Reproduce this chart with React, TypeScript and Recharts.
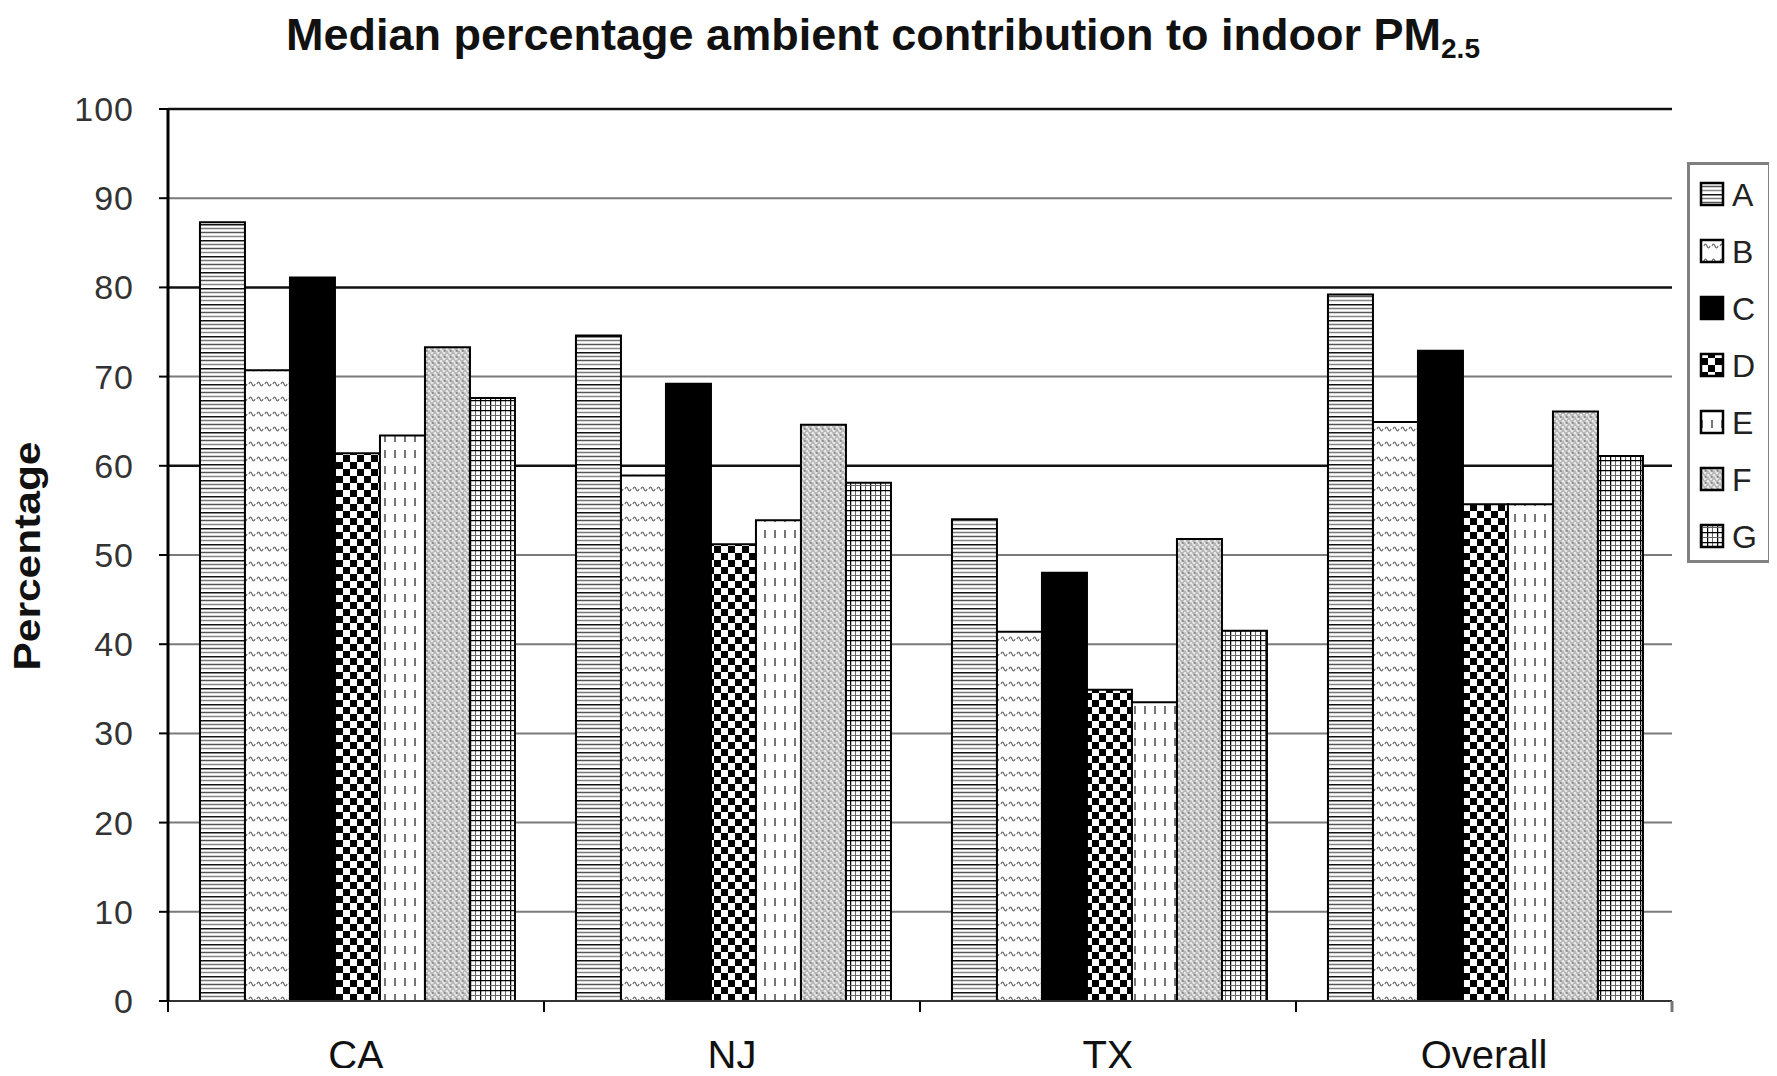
import React from 'react';
import { BarChart, Bar, XAxis, YAxis, CartesianGrid } from 'recharts';

const categories = ['CA', 'NJ', 'TX', 'Overall'];
const seriesNames = ['A', 'B', 'C', 'D', 'E', 'F', 'G'];
const valuesA = [87.3, 74.6, 54.0, 79.2];
const valuesB = [70.7, 58.9, 41.4, 64.9];
const valuesC = [81.1, 69.2, 48.0, 72.9];
const valuesD = [61.4, 51.2, 34.9, 55.7];
const valuesE = [63.4, 53.9, 33.5, 55.7];
const valuesF = [73.3, 64.6, 51.8, 66.1];
const valuesG = [67.6, 58.1, 41.5, 61.1];
const yTicks = [0, 10, 20, 30, 40, 50, 60, 70, 80, 90, 100];
const darkGrid = [100, 80, 60];
const lightGrid = [90, 70, 50, 40, 30, 20, 10];
const chartTitle = 'Median percentage ambient contribution to indoor PM';
const titleSub = '2.5';
const yTitle = 'Percentage';

const allValues = [valuesA, valuesB, valuesC, valuesD, valuesE, valuesF, valuesG];
const data = categories.map((name, i) => {
  const row: Record<string, string | number> = { name };
  seriesNames.forEach((s, k) => {
    row[s] = allValues[k][i];
  });
  return row;
});

const W = 1777;
const H = 1076;
const PLOT_LEFT = 168;
const PLOT_RIGHT = 1672;
const PLOT_TOP = 109;
const PLOT_BOTTOM = 1001;
const BAND = (PLOT_RIGHT - PLOT_LEFT) / categories.length;
const FONT = "'Liberation Sans', Arial, Helvetica, sans-serif";

const fills = ['url(#patA)', 'url(#patB)', '#000', 'url(#patD)', 'url(#patE)', 'url(#patF)', 'url(#patG)'];

const Patterns = () => (
  <defs>
    <pattern id="patA" patternUnits="userSpaceOnUse" width={8} height={16}>
      <rect width={8} height={16} fill="#fff" />
      <line x1={0} x2={8} y1={0.75} y2={0.75} stroke="#111" strokeWidth={1.5} />
      <line x1={0} x2={8} y1={4.5} y2={4.5} stroke="#777" strokeWidth={1.5} />
      <line x1={0} x2={8} y1={8.5} y2={8.5} stroke="#555" strokeWidth={1.5} />
      <line x1={0} x2={8} y1={12.5} y2={12.5} stroke="#888" strokeWidth={1.5} />
    </pattern>
    <pattern id="patB" patternUnits="userSpaceOnUse" width={8} height={15}>
      <rect width={8} height={15} fill="#fff" />
      <path d="M1,9 q1.5,-4 3,0 q1.5,4 3,0" stroke="#666" strokeWidth={1.2} fill="none" />
    </pattern>
    <pattern id="patD" patternUnits="userSpaceOnUse" width={14} height={14}>
      <rect width={14} height={14} fill="#fff" />
      <rect x={0} y={0} width={7} height={7} fill="#000" />
      <rect x={7} y={7} width={7} height={7} fill="#000" />
    </pattern>
    <pattern id="patE" patternUnits="userSpaceOnUse" width={10} height={16}>
      <rect width={10} height={16} fill="#fff" />
      <line x1={5} x2={5} y1={2} y2={10} stroke="#777" strokeWidth={2} />
    </pattern>
    <pattern id="patF" patternUnits="userSpaceOnUse" width={6} height={6}>
      <rect width={6} height={6} fill="#b8b8b8" />
      <path d="M0,6 L3,0 L6,6" stroke="#eeeeee" strokeWidth={1.2} fill="none" />
      <circle cx={1} cy={3} r={0.8} fill="#444" />
    </pattern>
    <pattern id="patG" patternUnits="userSpaceOnUse" width={10} height={10}>
      <rect width={10} height={10} fill="#fff" />
      <line x1={0.5} x2={0.5} y1={0} y2={10} stroke="#000" strokeWidth={1.5} />
      <line x1={5.5} x2={5.5} y1={0} y2={10} stroke="#666" strokeWidth={1} />
      <line x1={0} x2={10} y1={0.5} y2={0.5} stroke="#000" strokeWidth={1.5} />
      <line x1={0} x2={10} y1={5.5} y2={5.5} stroke="#666" strokeWidth={1} />
    </pattern>
  </defs>
);

const YTick = (props: any) => {
  const { x, y, payload } = props;
  return (
    <text x={x} y={y} dy={12} textAnchor="end" fontSize={34} fontFamily={FONT} fill="#333" letterSpacing={1}>
      {payload.value}
    </text>
  );
};

const XTick = (props: any) => {
  const { x, payload, index } = props;
  const half = BAND / 2;
  return (
    <g>
      <line x1={x - half} x2={x - half} y1={PLOT_BOTTOM} y2={PLOT_BOTTOM + 11} stroke="#000" strokeWidth={2} />
      {index === categories.length - 1 && (
        <line x1={x + half} x2={x + half} y1={PLOT_BOTTOM} y2={PLOT_BOTTOM + 11} stroke="#777" strokeWidth={3} />
      )}
      <text x={x} y={PLOT_BOTTOM + 68} textAnchor="middle" fontSize={40} fontFamily={FONT} fill="#111">
        {payload.value}
      </text>
    </g>
  );
};

const LEGEND_X = 1687;
const LEGEND_Y = 162;

export default function App() {
  return (
    <div style={{ position: 'relative', width: W, height: H, margin: -8, background: '#fff' }}>
      <BarChart
        width={W}
        height={H}
        data={data}
        margin={{ top: PLOT_TOP, right: W - PLOT_RIGHT, bottom: 0, left: PLOT_LEFT - 100 }}
        barCategoryGap="8.5%"
        barGap={0}
      >
        <CartesianGrid vertical={false} horizontalValues={lightGrid} stroke="#7a7a7a" strokeWidth={2} />
        <CartesianGrid vertical={false} horizontalValues={darkGrid} stroke="#111" strokeWidth={2.5} />
        <XAxis
          dataKey="name"
          height={H - PLOT_BOTTOM}
          axisLine={{ stroke: '#333', strokeWidth: 2 }}
          tickLine={false}
          tick={<XTick />}
          interval={0}
        />
        <YAxis
          domain={[0, 100]}
          ticks={yTicks}
          width={100}
          axisLine={{ stroke: '#000', strokeWidth: 3 }}
          tickLine={{ stroke: '#000', strokeWidth: 2 }}
          tickSize={9}
          tickMargin={25}
          tick={<YTick />}
          interval={0}
        />
        <YAxis
          yAxisId="right"
          orientation="right"
          domain={[0, 100]}
          width={0}
          tick={false}
          tickLine={false}
          axisLine={{ stroke: '#808080', strokeWidth: 3 }}
        />
        {seriesNames.map((s, i) => (
          <Bar key={s} dataKey={s} fill={fills[i]} stroke="#000" strokeWidth={2} isAnimationActive={false} />
        ))}
      </BarChart>
      <svg
        width={W}
        height={H}
        style={{ position: 'absolute', left: 0, top: 0, pointerEvents: 'none' }}
      >
        <Patterns />
        <text x={286} y={50} fontSize={45} fontWeight="bold" fontFamily={FONT} fill="#111">
          {chartTitle}
          <tspan fontSize={28} dy={8}>{titleSub}</tspan>
        </text>
        <text
          transform={`translate(40, ${(PLOT_TOP + PLOT_BOTTOM) / 2 + 1}) rotate(-90)`}
          textAnchor="middle"
          fontSize={36}
          fontWeight="bold"
          fontFamily={FONT}
          fill="#111"
          textLength={229}
          lengthAdjust="spacingAndGlyphs"
        >
          {yTitle}
        </text>
        <g transform={`translate(${LEGEND_X}, ${LEGEND_Y})`}>
          <rect x={1.5} y={1.5} width={81} height={398} fill="#fff" stroke="#808080" strokeWidth={3} />
          {seriesNames.map((s, i) => {
            const cy = 32 + i * 57;
            return (
              <g key={s}>
                <rect x={14} y={cy - 11} width={22} height={22} fill={fills[i]} stroke="#000" strokeWidth={2.5} />
                <text x={45} y={cy + 12} fontSize={32} fontFamily={FONT} fill="#222">
                  {s}
                </text>
              </g>
            );
          })}
        </g>
      </svg>
    </div>
  );
}
